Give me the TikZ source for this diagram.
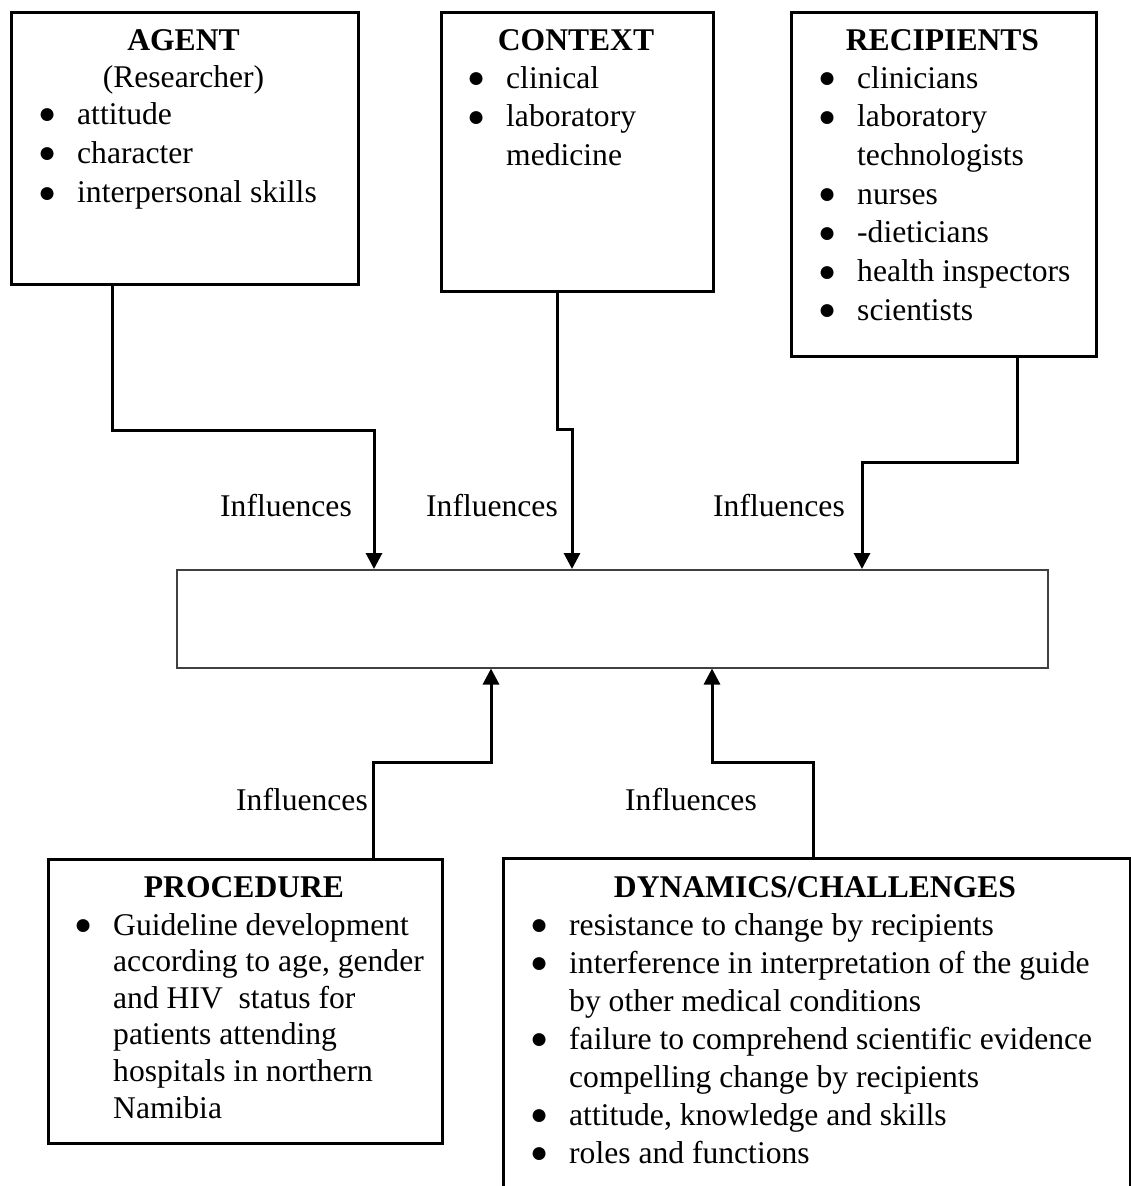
\documentclass[tikz,border=0pt]{standalone}
\usepackage{graphicx}
\usepackage{fontspec}
\setmainfont{Liberation Serif}
\usetikzlibrary{arrows.meta}
\newcommand\bul{\raisebox{0.5pt}{\fontsize{30}{30}\selectfont ●}}
\newcommand\bitem[1]{\makebox[39pt][l]{\bul}#1}
\newcommand\cont[1]{\hspace*{39pt}#1}
\tikzset{
  box/.style={draw, line width=3pt, inner sep=0pt, anchor=north west},
  midbox/.style={draw=black!75, line width=1.5pt, inner sep=0pt, anchor=north west},
  conn/.style={line width=3pt},
  arr/.style={conn, -{Triangle[width=16pt,length=16pt]}},
  ttl/.style={anchor=base, inner sep=0pt, font=\fontsize{31.6}{38}\selectfont\bfseries},
  txt/.style={anchor=base, inner sep=0pt, font=\fontsize{31.6}{38}\selectfont},
  lst/.style={anchor=base west, inner sep=0pt},
}
\begin{document}
\begin{tikzpicture}[x=1pt,y=-1pt]
\useasboundingbox (0,0) rectangle (1130,1186);

% boxes
\node[box, minimum width=347pt, minimum height=272pt] (agent) at (10,11) {};
\node[box, minimum width=272pt, minimum height=279pt] (context) at (440,11) {};
\node[box, minimum width=305pt, minimum height=344pt] (recip) at (790,11) {};
\node[midbox, minimum width=871pt, minimum height=98pt] (mid) at (176,569) {};
\node[box, minimum width=394pt, minimum height=284pt] (proc) at (47,858) {};
\node[box, draw=none, minimum width=624pt, minimum height=328pt] (dyn) at (503,858) {};
\draw[conn] (dyn.south west) -- (dyn.north west) -- (dyn.north east) -- (dyn.south east);

% AGENT
\node[ttl] (agentT) at (183.5,50) {AGENT};
\node[txt] (agentR) at (183.5,87) {(Researcher)};
\node[lst, font=\fontsize{31.6}{39.3}\selectfont] (agentL) at (38,124) {\begin{tabular}[t]{@{}l@{}}
\bitem{attitude}\\
\bitem{character}\\
\bitem{interpersonal skills}
\end{tabular}};

% CONTEXT
\node[ttl] (contextT) at (576,50) {CONTEXT};
\node[lst, font=\fontsize{31.6}{38.5}\selectfont] (contextL) at (467,88) {\begin{tabular}[t]{@{}l@{}}
\bitem{clinical}\\
\bitem{laboratory}\\
\cont{medicine}
\end{tabular}};

% RECIPIENTS
\node[ttl] (recipT) at (942.5,50) {RECIPIENTS};
\node[lst, font=\fontsize{31.6}{38.7}\selectfont] (recipL) at (818,88) {\begin{tabular}[t]{@{}l@{}}
\bitem{clinicians}\\
\bitem{laboratory}\\
\cont{technologists}\\
\bitem{nurses}\\
\bitem{-dieticians}\\
\bitem{health inspectors}\\
\bitem{scientists}
\end{tabular}};

% PROCEDURE
\node[ttl] (procT) at (244,897) {PROCEDURE};
\node[lst, font=\fontsize{31.6}{36.6}\selectfont] (procL) at (74,935) {\begin{tabular}[t]{@{}l@{}}
\bitem{Guideline development}\\
\cont{according to age, gender}\\
\cont{and HIV\ \ status for}\\
\cont{patients attending}\\
\cont{hospitals in northern}\\
\cont{Namibia}
\end{tabular}};

% DYNAMICS
\node[ttl] (dynT) at (815,897) {DYNAMICS/CHALLENGES};
\node[lst, font=\fontsize{31.6}{38}\selectfont] (dynL) at (530,935) {\begin{tabular}[t]{@{}l@{}}
\bitem{resistance to change by recipients}\\
\bitem{interference in interpretation of the guide}\\
\cont{by other medical conditions}\\
\bitem{failure to comprehend scientific evidence}\\
\cont{compelling change by recipients}\\
\bitem{attitude, knowledge and skills}\\
\bitem{roles and functions}
\end{tabular}};

% connector bends
\coordinate (a1) at (112,430);
\coordinate (a2) at (374,430);
\coordinate (c1) at (557,429);
\coordinate (c2) at (572,429);
\coordinate (r1) at (1017,462);
\coordinate (r2) at (862,462);
\coordinate (p1) at (373,762);
\coordinate (p2) at (491,762);
\coordinate (d1) at (813,762);
\coordinate (d2) at (712,762);

\draw[arr] (agent.south -| a1) -- (a1) -- (a2) -- (mid.north -| a2);
\draw[arr] (context.south -| c1) -- (c1) -- (c2) -- (mid.north -| c2);
\draw[arr] (recip.south -| r1) -- (r1) -- (r2) -- (mid.north -| r2);
\draw[arr] (proc.north -| p1) -- (p1) -- (p2) -- (mid.south -| p2);
\draw[arr] (dyn.north -| d1) -- (d1) -- (d2) -- (mid.south -| d2);

% labels
\node[txt] (inf1) at (286,516) {Influences};
\node[txt] (inf2) at (492,516) {Influences};
\node[txt] (inf3) at (779,516) {Influences};
\node[txt] (inf4) at (302,810) {Influences};
\node[txt] (inf5) at (691,810) {Influences};
\end{tikzpicture}
\end{document}
